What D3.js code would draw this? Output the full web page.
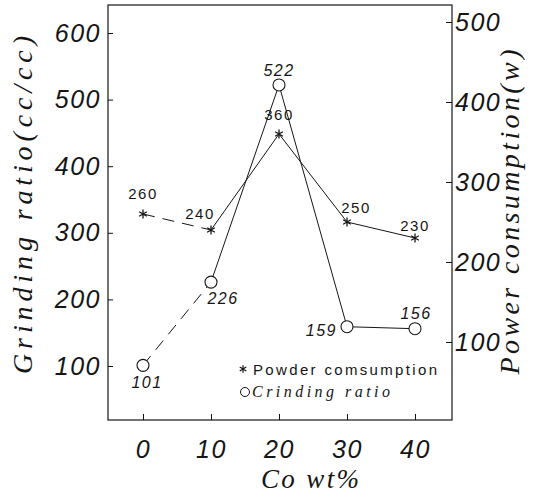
<!DOCTYPE html>
<html>
<head>
<meta charset="utf-8">
<script src="https://cdn.jsdelivr.net/npm/d3@7"></script>
<style>
  body { margin: 0; background: #fff; }
  svg { display: block; }
  .tick line { stroke: #111; }
</style>
</head>
<body>
<svg id="chart"></svg>
<script>
//
// Data
//

const coContent = [0, 10, 20, 30, 40];
const powderConsumption = [260, 240, 360, 250, 230];
const grindingRatio = [101, 226, 522, 159, 156];

const xTicks = [0, 10, 20, 30, 40];
const leftTicks = [100, 200, 300, 400, 500, 600];
const rightTicks = [100, 200, 300, 400, 500];

const xLabel = 'Co wt%';
const yLabel = 'Grinding ratio(cc/cc)';
const y2Label = 'Power consumption(w)';
const legendLabels = ['Powder comsumption', 'Crinding ratio'];

//
// Set-up
//

const width = 536;
const height = 496;
const frame = { left: 108, top: 5, right: 452, bottom: 420 };

const numFont = "'Liberation Sans', Arial, sans-serif";
const titleFont = "'Liberation Serif', 'Times New Roman', serif";
const ink = '#161616';

const svg = d3.select('#chart')
  .attr('width', width)
  .attr('height', height);

// scales (the original plot is a bit hand drawn, ranges fitted to its ticks)
const xScale = d3.scaleLinear().domain([0, 40]).range([143, 415]);
const leftScale = d3.scaleLinear().domain([100, 600]).range([366, 33]);
const rightScale = d3.scaleLinear().domain([100, 500]).range([342, 22]);

//
// Frame & axes
//

svg.append('rect')
  .attr('x', frame.left)
  .attr('y', frame.top)
  .attr('width', frame.right - frame.left)
  .attr('height', frame.bottom - frame.top)
  .style('fill', 'none')
  .style('stroke', ink)
  .style('stroke-width', 1.2);

const styleAxis = g => {
  g.select('.domain').remove();
  g.selectAll('text')
    .style('font-family', numFont)
    .style('font-style', 'italic')
    .style('font-size', '25px')
    .style('letter-spacing', '1.5px')
    .style('fill', ink);
};

svg.append('g')
  .attr('class', 'x axis')
  .attr('transform', `translate(0,${frame.bottom})`)
  .call(d3.axisBottom(xScale).tickValues(xTicks).tickSizeInner(-6).tickSizeOuter(0).tickPadding(20))
  .call(styleAxis);

svg.append('g')
  .attr('class', 'y axis')
  .attr('transform', `translate(${frame.left},0)`)
  .call(d3.axisLeft(leftScale).tickValues(leftTicks).tickSizeInner(-5).tickSizeOuter(0).tickPadding(7))
  .call(styleAxis);

svg.append('g')
  .attr('class', 'y2 axis')
  .attr('transform', `translate(${frame.right},0)`)
  .call(d3.axisRight(rightScale).tickValues(rightTicks).tickSizeInner(-6).tickSizeOuter(0).tickPadding(3))
  .call(styleAxis);

//
// Titles
//

svg.append('text')
  .attr('transform', 'translate(310,488)')
  .attr('text-anchor', 'middle')
  .style('font-family', titleFont)
  .style('font-style', 'italic')
  .style('font-size', '27px')
  .attr('textLength', 98)
  .style('fill', ink)
  .text(xLabel);

svg.append('text')
  .attr('transform', 'translate(32,205) rotate(-90)')
  .attr('text-anchor', 'middle')
  .style('font-family', titleFont)
  .style('font-style', 'italic')
  .style('font-size', '28px')
  .attr('textLength', 338)
  .style('fill', ink)
  .text(yLabel);

svg.append('text')
  .attr('transform', 'translate(519,212) rotate(-90)')
  .attr('text-anchor', 'middle')
  .style('font-family', titleFont)
  .style('font-style', 'italic')
  .style('font-size', '28px')
  .attr('textLength', 325)
  .style('fill', ink)
  .text(y2Label);

//
// Lines
//

const powderPoints = coContent.map((c, i) => [xScale(c), rightScale(powderConsumption[i])]);
const grindPoints = coContent.map((c, i) => [xScale(c), leftScale(grindingRatio[i])]);

const line = d3.line();

[powderPoints, grindPoints].forEach(pts => {
  // first segment dashed, the rest solid
  svg.append('path')
    .attr('d', line(pts.slice(0, 2)))
    .style('fill', 'none')
    .style('stroke', ink)
    .style('stroke-width', 1)
    .style('stroke-dasharray', '12,8');
  svg.append('path')
    .attr('d', line(pts.slice(1)))
    .style('fill', 'none')
    .style('stroke', ink)
    .style('stroke-width', 1);
});

//
// Markers
//

const star = d3.symbol().type(d3.symbolAsterisk).size(55);

svg.selectAll('.star')
  .data(powderPoints)
  .enter().append('path')
    .attr('class', 'star')
    .attr('transform', d => `translate(${d[0]},${d[1]})`)
    .attr('d', star)
    .style('fill', 'none')
    .style('stroke', ink)
    .style('stroke-width', 1.3);

svg.selectAll('.ring')
  .data(grindPoints)
  .enter().append('circle')
    .attr('class', 'ring')
    .attr('cx', d => d[0])
    .attr('cy', d => d[1])
    .attr('r', 6)
    .style('fill', '#fff')
    .style('stroke', ink)
    .style('stroke-width', 1.1);

//
// Value labels
//

// offsets from the marker, in px
const powderOffsets = [[0, -15], [-11, -11], [0, -14], [9, -9], [0, -7]];
const grindOffsets = [[4, 23, 'middle'], [12, 22, 'middle'], [0, -9, 'middle'], [-10, 9, 'end'], [1, -10, 'middle']];

svg.selectAll('.powderLabel')
  .data(powderConsumption)
  .enter().append('text')
    .attr('class', 'powderLabel')
    .attr('x', (d, i) => powderPoints[i][0] + powderOffsets[i][0])
    .attr('y', (d, i) => powderPoints[i][1] + powderOffsets[i][1])
    .attr('text-anchor', 'middle')
    .style('font-family', numFont)
    .style('font-size', '15px')
    .style('letter-spacing', '1.5px')
    .style('fill', ink)
    .text(d => d);

svg.selectAll('.grindLabel')
  .data(grindingRatio)
  .enter().append('text')
    .attr('class', 'grindLabel')
    .attr('x', (d, i) => grindPoints[i][0] + grindOffsets[i][0])
    .attr('y', (d, i) => grindPoints[i][1] + grindOffsets[i][1])
    .attr('text-anchor', (d, i) => grindOffsets[i][2])
    .style('font-family', numFont)
    .style('font-style', 'italic')
    .style('font-size', '16px')
    .style('letter-spacing', '1.5px')
    .style('fill', ink)
    .text(d => d);

//
// Legend
//

const legend = svg.append('g').attr('class', 'legendWrapper');

legend.append('path')
  .attr('transform', 'translate(243,369)')
  .attr('d', d3.symbol().type(d3.symbolAsterisk).size(40))
  .style('fill', 'none')
  .style('stroke', ink)
  .style('stroke-width', 1.2);

legend.append('text')
  .attr('x', 253)
  .attr('y', 375)
  .attr('textLength', 184)
  .style('font-family', numFont)
  .style('font-size', '15px')
  .style('fill', ink)
  .text(legendLabels[0]);

legend.append('circle')
  .attr('cx', 245)
  .attr('cy', 392)
  .attr('r', 4.5)
  .style('fill', '#fff')
  .style('stroke', ink)
  .style('stroke-width', 1);

legend.append('text')
  .attr('x', 252)
  .attr('y', 397)
  .attr('textLength', 138)
  .style('font-family', titleFont)
  .style('font-style', 'italic')
  .style('font-size', '16px')
  .style('fill', ink)
  .text(legendLabels[1]);
</script>
</body>
</html>
